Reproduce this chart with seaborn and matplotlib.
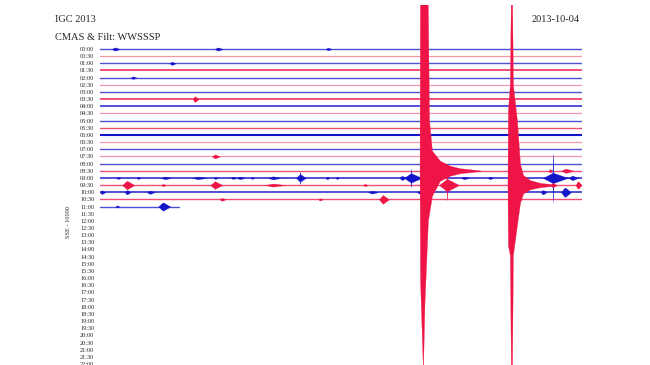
import numpy as np
import pandas as pd
import matplotlib
matplotlib.use("Agg")
import matplotlib.pyplot as plt
import seaborn as sns

# ---------------- data ----------------
row_labels = [f"{h:02d}:{m:02d}" for h in range(24) for m in (0, 30)]

# traces recorded so far (row index = half-hour line), end minute, noise level
trace_rows = list(range(23))
trace_end = [30.0] * 22 + [4.92]
trace_noise = [1, 0, 1, 2, 1, 0, 1, 2, 2, 0, 1, 1, 3, 0, 1, 0, 1, 1, 2, 1, 2, 1, 1]

# small seismic events: row, centre minute, peak half-amplitude (rows), body half-amp, length (min)
ev_row = [0, 0, 0, 2, 4, 7, 15,
          17, 17,
          18, 18, 18, 18, 18, 18, 18, 18, 18, 18, 18, 18, 18, 18, 18, 18, 18, 18, 18,
          19, 19, 19, 19, 19, 19, 19, 19,
          20, 20, 20, 20, 20, 20, 20,
          21, 21, 21,
          22, 22]
ev_t = [0.93, 7.34, 14.19, 4.48, 2.05, 5.91, 7.16,
        28.01, 29.00,
        1.12, 2.37, 4.05, 6.10, 7.16, 8.28, 8.71, 9.46, 10.77, 12.45, 14.13, 14.75, 18.80, 19.36, 20.91, 22.66, 24.27, 28.19, 29.40,
        1.68, 3.92, 7.16, 10.77, 16.49, 21.60, 28.19, 29.75,
        0.12, 1.68, 3.11, 16.93, 19.92, 27.57, 28.94,
        7.59, 13.69, 17.61,
        1.06, 3.92]
ev_peak = [0.21, 0.21, 0.17, 0.21, 0.17, 0.42, 0.28,
           0.21, 0.28,
           0.14, 0.14, 0.18, 0.18, 0.14, 0.14, 0.17, 0.14, 0.21, 0.84, 0.17, 0.14, 0.28, 1.26, 0.18, 0.17, 0.17, 3.35, 0.30,
           0.56, 0.14, 0.56, 0.21, 0.14, 2.10, 0.28, 0.49,
           0.28, 0.28, 0.21, 0.18, 0.21, 0.28, 0.63,
           0.18, 0.14, 0.63,
           0.14, 0.56]
ev_body = [0.21, 0.21, 0.17, 0.21, 0.17, 0.35, 0.25,
           0.21, 0.28,
           0.14, 0.14, 0.18, 0.18, 0.14, 0.14, 0.17, 0.14, 0.21, 0.49, 0.17, 0.14, 0.28, 0.63, 0.18, 0.17, 0.17, 0.70, 0.30,
           0.56, 0.14, 0.49, 0.21, 0.14, 0.84, 0.28, 0.49,
           0.21, 0.28, 0.21, 0.18, 0.21, 0.28, 0.63,
           0.18, 0.14, 0.56,
           0.14, 0.56]
ev_len = [0.5, 0.5, 0.37, 0.37, 0.37, 0.37, 0.5,
          0.25, 0.75,
          0.25, 0.25, 0.62, 0.87, 0.25, 0.37, 0.5, 0.19, 0.75, 0.62, 0.25, 0.19, 0.37, 1.12, 0.5, 0.5, 0.31, 1.56, 0.6,
          0.75, 0.31, 0.75, 1.24, 0.31, 1.24, 0.37, 0.37,
          0.37, 0.37, 0.5, 0.62, 0.5, 0.37, 0.62,
          0.37, 0.25, 0.62,
          0.25, 0.75]

# two large earthquakes (envelopes): row, minutes, half-amplitude (rows)
q1_row = 17
q1_up_t = [19.89, 19.92, 20.35, 20.48, 20.66, 21.16, 21.78, 22.41, 23.03, 23.65]
q1_up_a = [0, 35, 35, 7.1, 2.8, 1.4, 0.7, 0.35, 0.2, 0.05]
q1_dn_t = [19.89, 19.92, 20.10, 20.20, 20.41, 20.66, 21.16, 21.78, 22.41, 23.65]
q1_dn_a = [0, 15.4, 28, 18.2, 7.0, 3.5, 1.4, 0.7, 0.35, 0.05]

q2_row = 19
q2_t = [25.36, 25.39, 25.51, 25.61, 25.70, 25.95, 26.14, 26.33, 26.76, 27.39, 28.32]
q2_up_a = [0, 10.5, 14, 35, 14, 9.1, 3.0, 1.4, 0.7, 0.3, 0.08]
q2_dn_a = [0, 8.4, 9.8, 35, 9.8, 5.6, 2.5, 1.2, 0.6, 0.3, 0.08]

BLUE = "#1414C8"
RED = "#EE1446"
LINE_W = [0.9, 1.0, 1.1, 1.5]      # line width per noise level
LINE_A = [0.45, 0.75, 0.95, 1.0]   # line opacity per noise level

# ---------------- figure ----------------
sns.set_style("white")
plt.rcParams["font.family"] = ["Liberation Serif", "DejaVu Serif"]

W, H = 650, 365
fig = plt.figure(figsize=(W / 100, H / 100), dpi=100)
ax = fig.add_axes([100 / W, 0, 482 / W, (H - 5) / H])

def col(r):
    return BLUE if r % 2 == 0 else RED

# baselines through seaborn, one line per half-hour row
for r, e, n in zip(trace_rows, trace_end, trace_noise):
    seg = pd.DataFrame({"minute": [0.0, e], "row": [r, r]})
    sns.lineplot(data=seg, x="minute", y="row", color=col(r), linewidth=LINE_W[n], alpha=LINE_A[n],
                 estimator=None, sort=False, legend=False, ax=ax, zorder=2)

# events (diamond-shaped spindles with a thin central spike)
for r, t, pk, bd, ln in zip(ev_row, ev_t, ev_peak, ev_body, ev_len):
    xs = np.array([t - 0.4 * ln, t - 0.03, t, t + 0.03, t + 0.6 * ln])
    hs = np.array([0, bd, pk, bd, 0])
    ax.fill_between(xs, r - hs, r + hs, color=col(r), lw=0.2, zorder=3)

# earthquakes
ax.fill_between(q1_up_t, q1_row - np.array(q1_up_a), q1_row, color=RED, lw=0.2, zorder=4)
ax.fill_between(q1_dn_t, q1_row, q1_row + np.array(q1_dn_a), color=RED, lw=0.2, zorder=4)
ax.fill_between(q2_t, q2_row - np.array(q2_up_a), q2_row, color=RED, lw=0.2, zorder=4)
ax.fill_between(q2_t, q2_row, q2_row + np.array(q2_dn_a), color=RED, lw=0.2, zorder=4)

ax.set_yticks(range(len(row_labels)))
ax.set_yticklabels(row_labels)
ax.set_xticks([])
ax.set_xlim(0, 30)
ax.set_ylim((H - 49) / 7.16, (5 - 49) / 7.16)
ax.tick_params(axis="y", length=0, pad=4, labelsize=4.5)
ax.set_xlabel("")
ax.set_ylabel("")
for s in ax.spines.values():
    s.set_visible(False)
ax.patch.set_alpha(0)

fig.text(55 / W, 1 - 19 / H, "IGC 2013", ha="left", va="center", fontsize=7.5)
fig.text(55 / W, 1 - 37 / H, "CMAS & Filt: WWSSSP", ha="left", va="center", fontsize=7.5)
fig.text(580 / W, 1 - 19 / H, "2013-10-04", ha="right", va="center", fontsize=7.5)
fig.text(69 / W, 1 - 222 / H, "SSE - 10000", ha="center", va="center", rotation=90, fontsize=4.5)

fig.savefig("out.png", dpi=100)
